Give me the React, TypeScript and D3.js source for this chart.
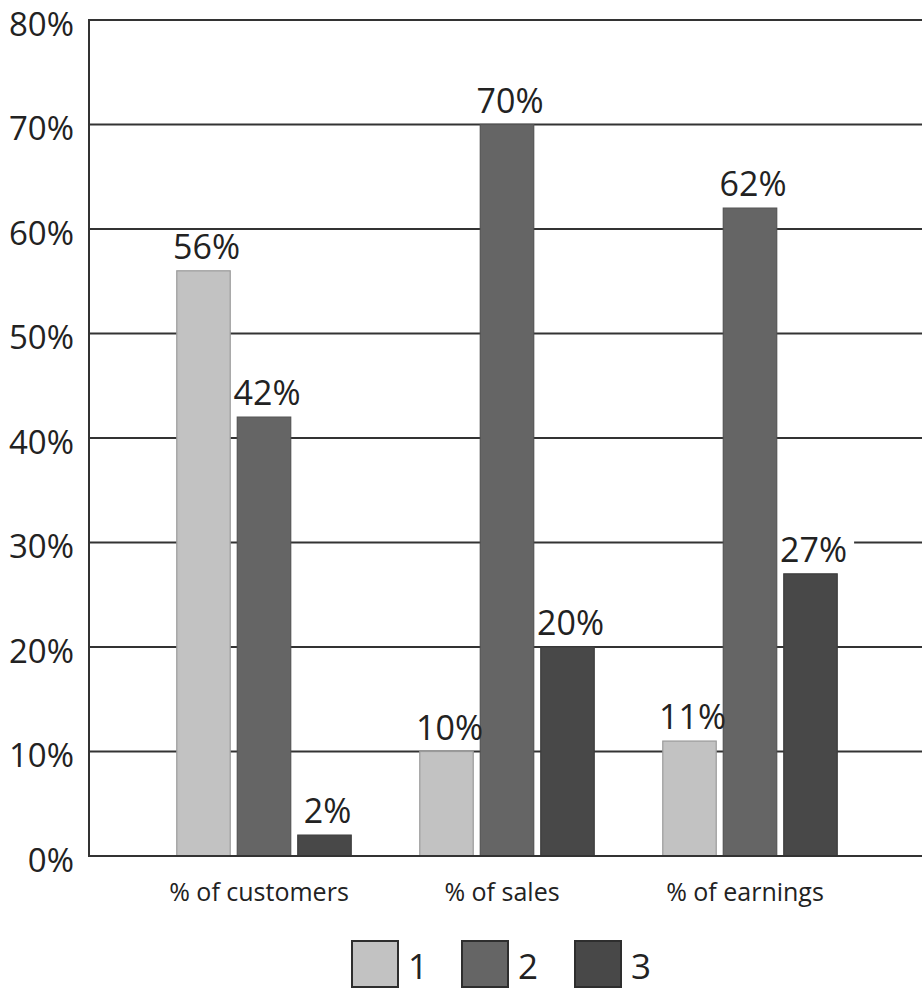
import React from "react";
import * as d3 from "d3";

const categories = ["% of customers", "% of sales", "% of earnings"];
const seriesNames = ["1", "2", "3"];
const series1 = [56, 10, 11];
const series2 = [42, 70, 62];
const series3 = [2, 20, 27];
const yTicks = [0, 10, 20, 30, 40, 50, 60, 70, 80];

const W = 922;
const H = 989;
const FONT = "'Open Sans', 'Noto Sans', sans-serif";
const fills = ["#c2c2c2", "#656565", "#484848"];
const strokes = ["#9a9a9a", "#555555", "#3c3c3c"];

export default function App() {
  const allSeries = [series1, series2, series3];
  const y = d3.scaleLinear().domain([0, 80]).range([856, 20]);
  const x0 = d3.scaleBand().domain(categories).range([142.5, 871.5]).paddingInner(0).paddingOuter(0);
  const x1 = d3
    .scaleBand()
    .domain(seriesNames)
    .range([(243 - 181.5) / 2, (243 + 181.5) / 2])
    .paddingInner(0.1)
    .paddingOuter(0.05);
  const axisX = 89;
  const valueFont = 34;

  return (
    <svg
      width={W}
      height={H}
      style={{ position: "absolute", left: 0, top: 0, display: "block", background: "#fff" }}
      fontFamily={FONT}
    >
      <rect x={0} y={0} width={W} height={H} fill="#fff" />
      {/* grid lines */}
      {yTicks.map((t) => (
        <line key={"g" + t} x1={axisX} x2={W} y1={y(t)} y2={y(t)} stroke="#333" strokeWidth={2} />
      ))}
      {/* y axis */}
      <line x1={axisX} x2={axisX} y1={y(80) - 1} y2={y(0) + 1} stroke="#333" strokeWidth={2} />
      {yTicks.map((t) => (
        <text key={"t" + t} x={74} y={y(t) + 15.5} textAnchor="end" fontSize={33} fill="#222">
          {t + "%"}
        </text>
      ))}
      {/* value label backgrounds */}
      {categories.map((c, ci) =>
        allSeries.map((s, si) => {
          const cx = (x0(c) as number) + (x1(seriesNames[si]) as number) + x1.bandwidth() / 2 + 3;
          const label = s[ci] + "%";
          const w = label.length * 0.6 * valueFont + 20;
          const base = y(s[ci]) - 12;
          return (
            <rect key={"lb" + ci + si} x={cx - w / 2} y={base - 26} width={w} height={29} fill="#fff" />
          );
        })
      )}
      {/* bars */}
      {categories.map((c, ci) =>
        allSeries.map((s, si) => {
          const bx = (x0(c) as number) + (x1(seriesNames[si]) as number);
          return (
            <rect
              key={"b" + ci + si}
              x={bx + 0.5}
              y={y(s[ci])}
              width={x1.bandwidth() - 1}
              height={y(0) - y(s[ci])}
              fill={fills[si]}
              stroke={strokes[si]}
              strokeWidth={1.2}
            />
          );
        })
      )}
      {/* axis baseline over bars */}
      <line x1={axisX} x2={W} y1={y(0)} y2={y(0)} stroke="#333" strokeWidth={2} />
      {/* value labels */}
      {categories.map((c, ci) =>
        allSeries.map((s, si) => {
          const cx = (x0(c) as number) + (x1(seriesNames[si]) as number) + x1.bandwidth() / 2;
          return (
            <text
              key={"v" + ci + si}
              x={cx + 3}
              y={y(s[ci]) - 12}
              textAnchor="middle"
              fontSize={valueFont}
              fill="#222"
            >
              {s[ci] + "%"}
            </text>
          );
        })
      )}
      {/* category labels */}
      {categories.map((c) => (
        <text
          key={"c" + c}
          x={(x0(c) as number) + x0.bandwidth() / 2 - 5}
          y={901}
          textAnchor="middle"
          fontSize={25}
          fill="#222"
        >
          {c}
        </text>
      ))}
      {/* legend */}
      {seriesNames.map((n, i) => {
        const lx = [352, 462, 575][i];
        return (
          <g key={"l" + n}>
            <rect x={lx} y={941} width={46} height={46} fill={fills[i]} stroke="#2e2e2e" strokeWidth={2} />
            <text x={lx + 56} y={979} fontSize={35} fill="#222">
              {n}
            </text>
          </g>
        );
      })}
    </svg>
  );
}
